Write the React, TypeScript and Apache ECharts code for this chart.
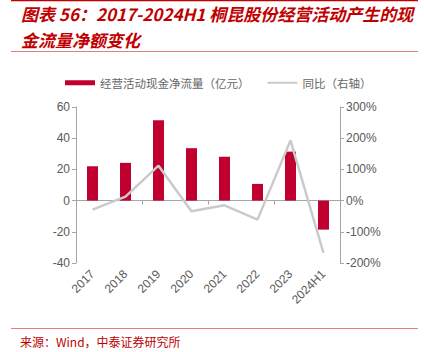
import React, { useEffect, useRef } from "react";
import * as echarts from "echarts";

const categories = ["2017", "2018", "2019", "2020", "2021", "2022", "2023", "2024H1"];
const cashFlow = [22, 24.2, 51.5, 33.6, 28.1, 10.7, 31.4, -18.6];
const yoyPct = [-29, 13, 112, -34, -15, -61, 193, -168];
const leftTicks = { min: -40, max: 60, interval: 20 };
const rightTicks = { min: -200, max: 300, interval: 100 };

const titleLine1 = "图表 56：2017-2024H1 桐昆股份经营活动产生的现";
const titleLine2 = "金流量净额变化";
const sourceText = "来源：Wind，中泰证券研究所";
const barName = "经营活动现金净流量（亿元）";
const lineName = "同比（右轴）";

const FONT = "'Liberation Sans', Arial, 'Noto Sans CJK SC', sans-serif";
const CJK = "'Noto Sans CJK SC', sans-serif";
const AXIS_COLOR = "#a6a6a6";
const LABEL_COLOR = "#595959";

export default function App() {
  const ref = useRef<HTMLDivElement>(null);
  useEffect(() => {
    if (!ref.current) return;
    const chart = echarts.init(ref.current, undefined, { renderer: "svg" });
    chart.setOption({
      animation: false,
      backgroundColor: "#ffffff",
      textStyle: { fontFamily: FONT },
      graphic: [
        { type: "line", shape: { x1: 11, y1: 0.5, x2: 418, y2: 0.5 }, style: { stroke: "#c00000", lineWidth: 1.5 } },
        {
          type: "text", left: 21, top: 5,
          style: { text: titleLine1, fill: "#c00000", font: `italic bold 17px ${CJK}` },
        },
        {
          type: "text", left: 21, top: 31,
          style: { text: titleLine2, fill: "#c00000", font: `italic bold 17px ${CJK}` },
        },
        { type: "line", shape: { x1: 11, y1: 51.5, x2: 418, y2: 51.5 }, style: { stroke: "#e08080", lineWidth: 1 } },
        { type: "line", shape: { x1: 11, y1: 328.5, x2: 418, y2: 328.5 }, style: { stroke: "#e08080", lineWidth: 1 } },
        {
          type: "text", left: 20, top: 335,
          style: { text: sourceText, fill: "#c00000", font: `12px ${CJK}` },
        },
      ],
      legend: {
        left: 60,
        top: 72,
        itemGap: 17,
        itemWidth: 30,
        itemHeight: 5,
        textStyle: { color: "#666666", fontSize: 11.5, fontFamily: CJK },
        data: [
          { name: barName, icon: "rect" },
          { name: lineName, itemStyle: { opacity: 0 } },
        ],
      },
      grid: { left: 76, right: 84, top: 107, bottom: 89 },
      xAxis: [
        {
          type: "category",
          data: categories,
          position: "bottom",
          axisLine: { show: false, onZero: false },
          axisTick: { show: false },
          axisLabel: { rotate: 45, color: LABEL_COLOR, fontSize: 12, margin: 9, interval: 0 },
        },
        {
          type: "category",
          data: categories,
          position: "bottom",
          axisLine: { show: true, onZero: true, onZeroAxisIndex: 0, lineStyle: { color: AXIS_COLOR, width: 1 } },
          axisTick: { show: true, length: 4, lineStyle: { color: AXIS_COLOR } },
          axisLabel: { show: false },
        },
      ],
      yAxis: [
        {
          type: "value",
          min: leftTicks.min,
          max: leftTicks.max,
          interval: leftTicks.interval,
          splitLine: { show: false },
          axisLine: { show: true, lineStyle: { color: AXIS_COLOR } },
          axisTick: { show: true, length: 4, lineStyle: { color: AXIS_COLOR } },
          axisLabel: { color: LABEL_COLOR, fontSize: 12, margin: 6 },
        },
        {
          type: "value",
          min: rightTicks.min,
          max: rightTicks.max,
          interval: rightTicks.interval,
          splitLine: { show: false },
          axisLine: { show: true, lineStyle: { color: AXIS_COLOR } },
          axisTick: { show: true, length: 4, lineStyle: { color: AXIS_COLOR } },
          axisLabel: { color: LABEL_COLOR, fontSize: 12, margin: 6, formatter: "{value}%" },
        },
      ],
      series: [
        {
          name: barName,
          type: "bar",
          xAxisIndex: 0,
          yAxisIndex: 0,
          data: cashFlow,
          barWidth: 11,
          itemStyle: { color: "#c0002f" },
        },
        {
          name: lineName,
          type: "line",
          xAxisIndex: 0,
          yAxisIndex: 1,
          data: yoyPct,
          symbol: "none",
          showSymbol: false,
          lineStyle: { color: "#cacaca", width: 2.5 },
          itemStyle: { color: "#cacaca" },
        },
      ],
    });
    return () => chart.dispose();
  }, []);
  return <div ref={ref} style={{ width: 424, height: 352, position: "fixed", left: 0, top: 0 }} />;
}
